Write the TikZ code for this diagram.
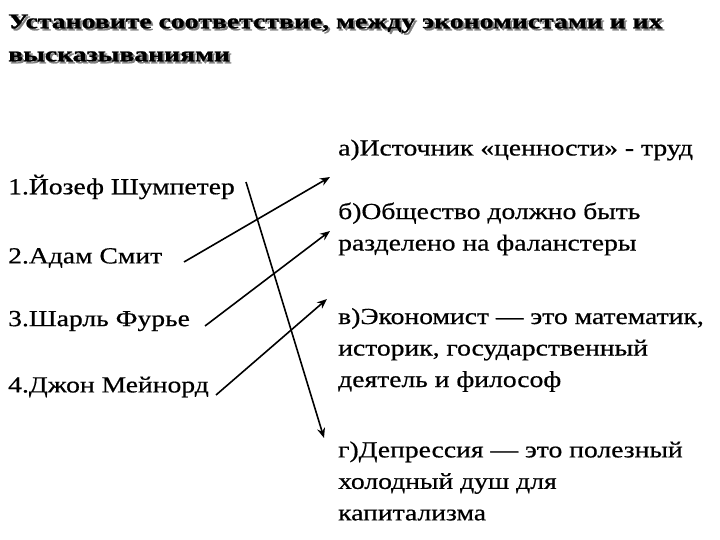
\documentclass[tikz,border=0pt]{standalone}
\usepackage{fontspec}
\setmainfont{Liberation Serif}
\newfontfamily\widefont[FakeStretch=1.2,FakeBold=0.6]{Liberation Serif}
\newfontfamily\titlefont[FakeStretch=1.32,FakeBold=1.2]{Liberation Serif}[BoldFont={* Bold}]
\usetikzlibrary{arrows.meta}
\begin{document}
\begin{tikzpicture}[x=1pt,y=-1pt,
 txt/.style={anchor=west,inner sep=0pt,font=\widefont\fontsize{23}{31.5}\selectfont,align=left},
 ttl/.style={anchor=west,inner sep=0pt,font=\titlefont\bfseries\fontsize{21}{33}\selectfont,align=left},
 arr/.style={line width=1.6pt,-{Stealth[length=10pt,width=8pt]}}]
\useasboundingbox (0,0) rectangle (720,540);
\node[ttl,text=gray] at (10,40) {Установите соответствие, между экономистами и их\\высказываниями};
\node[ttl] (title) at (8,38) {Установите соответствие, между экономистами и их\\высказываниями};
\node[txt] (l1) at (8,187) {1.Йозеф Шумпетер};
\node[txt] (l2) at (8,258) {2.Адам Смит};
\node[txt] (l3) at (8,321) {3.Шарль Фурье};
\node[txt] (l4) at (8,387) {4.Джон Мейнорд};
\node[txt] (ra) at (338,150) {а)Источник «ценности» - труд};
\node[txt] (rb) at (338,229) {б)Общество должно быть\\разделено на фаланстеры};
\node[txt] (rc) at (338,350) {в)Экономист — это математик,\\историк, государственный\\деятель и философ};
\node[txt] (rd) at (338,481) {г)Депрессия — это полезный\\холодный душ для\\капитализма};
\coordinate (a1) at (246,182); \coordinate (e1) at (324,438);
\coordinate (a2) at (184,262); \coordinate (e2) at (330,177);
\coordinate (a3) at (205,326); \coordinate (e3) at (330,231);
\coordinate (a4) at (216,395); \coordinate (e4) at (327,299);
\draw[arr] (a1) -- (e1);
\draw[arr] (a2) -- (e2);
\draw[arr] (a3) -- (e3);
\draw[arr] (a4) -- (e4);
\end{tikzpicture}
\end{document}
